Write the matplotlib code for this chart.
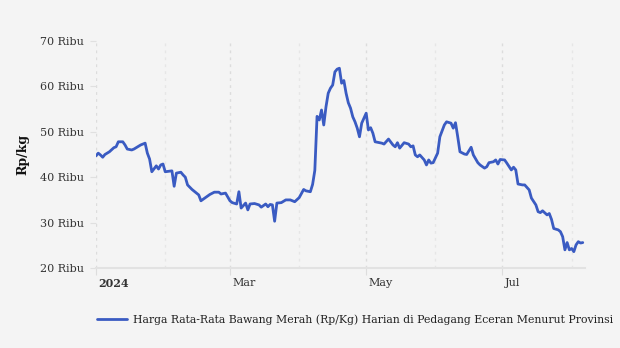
import matplotlib
matplotlib.use("Agg")
import matplotlib.pyplot as plt
import matplotlib.transforms as mtransforms
import pandas as pd

# Daily average retail price of shallots (Rp/kg), 2024
dates = [
    "2024-01-01", "2024-01-02", "2024-01-03", "2024-01-04", "2024-01-05", "2024-01-07",
    "2024-01-09", "2024-01-10", "2024-01-11", "2024-01-13", "2024-01-14", "2024-01-15",
    "2024-01-17", "2024-01-18", "2024-01-19", "2024-01-21", "2024-01-23", "2024-01-24",
    "2024-01-25", "2024-01-26", "2024-01-28", "2024-01-29", "2024-01-30", "2024-01-31",
    "2024-02-01", "2024-02-04", "2024-02-05", "2024-02-06", "2024-02-08", "2024-02-09",
    "2024-02-10", "2024-02-11", "2024-02-13", "2024-02-16", "2024-02-17", "2024-02-19",
    "2024-02-21", "2024-02-23", "2024-02-25", "2024-02-26", "2024-02-28", "2024-03-01",
    "2024-03-02", "2024-03-04", "2024-03-05", "2024-03-06", "2024-03-08", "2024-03-09",
    "2024-03-10", "2024-03-12", "2024-03-14", "2024-03-15", "2024-03-17", "2024-03-18",
    "2024-03-19", "2024-03-20", "2024-03-21", "2024-03-22", "2024-03-24", "2024-03-26",
    "2024-03-28", "2024-03-30", "2024-04-01", "2024-04-03", "2024-04-04", "2024-04-06",
    "2024-04-07", "2024-04-08", "2024-04-09", "2024-04-10", "2024-04-11", "2024-04-12",
    "2024-04-13", "2024-04-14", "2024-04-15", "2024-04-16", "2024-04-17", "2024-04-18",
    "2024-04-19", "2024-04-20", "2024-04-21", "2024-04-22", "2024-04-23", "2024-04-24",
    "2024-04-25", "2024-04-26", "2024-04-27", "2024-04-28", "2024-04-29", "2024-05-01",
    "2024-05-02", "2024-05-03", "2024-05-04", "2024-05-05", "2024-05-07", "2024-05-08",
    "2024-05-09", "2024-05-11", "2024-05-13", "2024-05-14", "2024-05-15", "2024-05-16",
    "2024-05-18", "2024-05-20", "2024-05-21", "2024-05-22", "2024-05-23", "2024-05-24",
    "2024-05-25", "2024-05-27", "2024-05-28", "2024-05-29", "2024-05-30", "2024-05-31",
    "2024-06-02", "2024-06-03", "2024-06-05", "2024-06-06", "2024-06-08", "2024-06-09",
    "2024-06-10", "2024-06-11", "2024-06-12", "2024-06-14", "2024-06-15", "2024-06-17",
    "2024-06-18", "2024-06-20", "2024-06-21", "2024-06-23", "2024-06-24", "2024-06-25",
    "2024-06-27", "2024-06-28", "2024-06-29", "2024-06-30", "2024-07-02", "2024-07-03",
    "2024-07-05", "2024-07-06", "2024-07-07", "2024-07-08", "2024-07-10", "2024-07-11",
    "2024-07-13", "2024-07-14", "2024-07-16", "2024-07-17", "2024-07-18", "2024-07-19",
    "2024-07-21", "2024-07-22", "2024-07-23", "2024-07-24", "2024-07-26", "2024-07-27",
    "2024-07-28", "2024-07-29", "2024-07-30", "2024-07-31", "2024-08-01", "2024-08-02",
    "2024-08-03", "2024-08-04", "2024-08-05", "2024-08-06",
]
prices = [
    44700, 45300, 44900, 44400, 45000, 45600,
    46500, 46700, 47800, 47800, 47100, 46200,
    46000, 46200, 46500, 47100, 47500, 45300,
    44000, 41200, 42500, 41800, 42700, 42900,
    41200, 41400, 38000, 40900, 41100, 40500,
    40000, 38300, 37300, 36100, 34800, 35500,
    36200, 36700, 36700, 36300, 36500, 34800,
    34400, 34100, 36800, 33200, 34300, 32800,
    34100, 34200, 33900, 33400, 34100, 33500,
    34000, 33900, 30300, 34300, 34400, 35000,
    35000, 34600, 35500, 37300, 37000, 36800,
    38400, 41500, 53400, 52600, 54800, 51500,
    55500, 58500, 59600, 60300, 63200, 63800,
    64000, 60700, 61300, 58500, 56400, 55200,
    53300, 52200, 50800, 48900, 51900, 54100,
    50400, 50900, 49700, 47800, 47600, 47500,
    47300, 48400, 47100, 46700, 47600, 46400,
    47600, 47300, 46700, 46900, 44900, 44500,
    44900, 43800, 42700, 43800, 43100, 43200,
    45300, 48900, 51500, 52200, 51900, 50800,
    52000, 48900, 45600, 45100, 45000, 46600,
    44900, 43200, 42700, 42000, 42300, 43200,
    43400, 43800, 42900, 43900, 43800, 43100,
    41600, 42200, 41600, 38500, 38300, 38300,
    37200, 35400, 33900, 32400, 32200, 32600,
    31700, 32000, 30700, 28700, 28400, 28000,
    26900, 24000, 25600, 24000, 24300, 23600,
    25100, 25800, 25500, 25600,
]

series_name = "Harga Rata-Rata Bawang Merah (Rp/Kg) Harian di Pedagang Eceran Menurut Provinsi"
y_label = "Rp/kg"
y_ticks = [20000, 30000, 40000, 50000, 60000, 70000]
y_tick_labels = ["20 Ribu", "30 Ribu", "40 Ribu", "50 Ribu", "60 Ribu", "70 Ribu"]
x_major = ["2024-01-01", "2024-03-01", "2024-05-01", "2024-07-01"]
x_major_labels = ["2024", "Mar", "May", "Jul"]
x_minor = ["2024-02-01", "2024-04-01", "2024-06-01", "2024-08-01"]

BG = "#f4f4f4"
LINE = "#3a5bc2"
GRID = "#dcdcdc"

plt.rcParams["font.family"] = ["DejaVu Serif"]

fig = plt.figure(figsize=(6.2, 3.48), dpi=100, facecolor=BG)
ax = fig.add_axes([96 / 620, 1 - 268 / 348, (585 - 96) / 620, (268 - 41) / 348])
ax.set_facecolor(BG)

x = pd.to_datetime(dates)
line, = ax.plot(x, prices, color=LINE, lw=2.0, solid_joinstyle="round",
                solid_capstyle="round", label=series_name, zorder=3)

ax.set_ylim(20000, 70000)
ax.set_xlim(pd.Timestamp("2024-01-01"), pd.Timestamp("2024-08-07"))

ax.set_yticks(y_ticks)
ax.set_yticklabels(y_tick_labels)
ax.tick_params(axis="y", length=4, width=0.8, color="#e0e0e0", pad=5,
               labelsize=8, labelcolor="#333333")

ax.set_xticks(pd.to_datetime(x_major))
ax.set_xticklabels(x_major_labels)
ax.set_xticks(pd.to_datetime(x_minor), minor=True)
ax.tick_params(axis="x", which="major", length=5, width=0.8, color="#dddddd",
               pad=2, labelsize=8, labelcolor="#333333")
ax.tick_params(axis="x", which="minor", length=0)
ax.get_xticklabels()[0].set_fontweight("bold")

# month labels sit just to the right of their tick
offset = mtransforms.ScaledTranslation(2.5 / 100, 0, fig.dpi_scale_trans)
for lbl in ax.get_xticklabels():
    lbl.set_horizontalalignment("left")
    lbl.set_transform(lbl.get_transform() + offset)

ax.grid(axis="x", which="major", color=GRID, lw=1.0, ls=(0, (2, 3)))
ax.grid(axis="x", which="minor", color="#e6e6e6", lw=1.0, ls=(0, (2, 3)))
ax.grid(axis="y", visible=False)

for side in ("top", "right", "left"):
    ax.spines[side].set_visible(False)
ax.spines["bottom"].set_color("#e2e2e2")
ax.spines["bottom"].set_linewidth(1.5)

fig.text(23 / 620, 1 - 154 / 348, y_label, rotation=90, ha="center", va="center",
         fontsize=9, fontweight="bold", color="#111111")

fig.legend(handles=[line], loc="center left",
           bbox_to_anchor=(87 / 620, 1 - 320 / 348), frameon=False,
           fontsize=7.8, handlelength=2.8, handletextpad=0.55,
           labelcolor="#222222")

fig.savefig("out.png", dpi=100, facecolor=BG)
